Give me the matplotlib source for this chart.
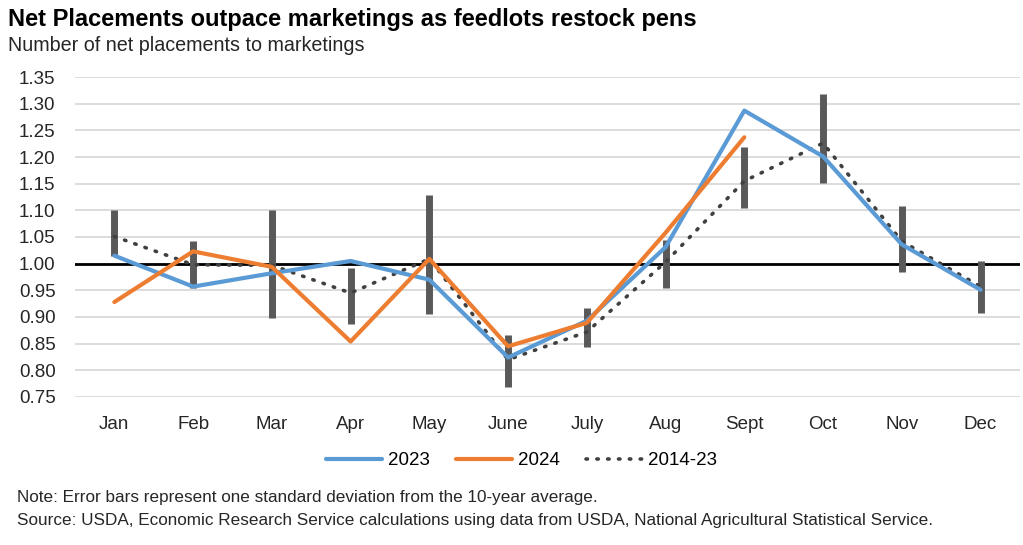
import matplotlib
matplotlib.use("Agg")
import matplotlib.pyplot as plt

plt.rcParams["font.family"] = ["Liberation Sans", "DejaVu Sans"]

months = ["Jan", "Feb", "Mar", "Apr", "May", "June", "July", "Aug", "Sept", "Oct", "Nov", "Dec"]
y2023 = [1.015, 0.957, 0.982, 1.005, 0.970, 0.824, 0.893, 1.031, 1.287, 1.201, 1.036, 0.951]
y2024 = [0.928, 1.023, 0.994, 0.854, 1.009, 0.845, 0.889, 1.058, 1.237]
avg_2014_23 = [1.051, 0.998, 0.997, 0.945, 1.009, 0.820, 0.872, 1.003, 1.155, 1.226, 1.042, 0.957]
# error bar ends (one SD around the 10-year average)
err_low = [1.014, 0.955, 0.898, 0.887, 0.906, 0.768, 0.844, 0.955, 1.105, 1.152, 0.985, 0.908]
err_high = [1.100, 1.043, 1.100, 0.991, 1.128, 0.867, 0.916, 1.045, 1.219, 1.318, 1.108, 1.005]

yticks = [0.75 + 0.05 * i for i in range(13)]

fig = plt.figure(figsize=(10.23, 5.45), dpi=100)
ax = fig.add_axes([0.0733, 0.2716, 0.9237, 0.5871])

x = list(range(len(months)))

for t in yticks:
    ax.axhline(t, color="#d9d9d9", lw=1.3, zorder=0)
ax.axhline(1.0, color="black", lw=2, zorder=1)

ax.vlines(x, err_low, err_high, color="#595959", lw=5, zorder=2)

ax.plot(x, y2023, color="#5b9bd5", lw=3, label="2023", zorder=4, solid_capstyle="round")
ax.plot(x[:len(y2024)], y2024, color="#ed7d31", lw=3, label="2024", zorder=5, solid_capstyle="round")
ax.plot(x, avg_2014_23, color="#404040", lw=2.6, ls=(0, (0.4, 2.6)), dash_capstyle="round",
        label="2014-23", zorder=3)

ax.set_xlim(-0.5, 11.5)
ax.set_ylim(0.75, 1.35)
ax.set_yticks(yticks)
ax.set_yticklabels([f"{t:.2f}" for t in yticks])
ax.set_xticks(x)
ax.set_xticklabels(months)
ax.tick_params(axis="both", length=0, labelsize=13.5, colors="#262626")
ax.tick_params(axis="x", pad=14)
ax.tick_params(axis="y", pad=14)
for s in ax.spines.values():
    s.set_visible(False)

ax.legend(loc="upper center", bbox_to_anchor=(0.4725, -0.12), ncol=3, frameon=False,
          fontsize=13.5, handlelength=3.0, columnspacing=1.4, handletextpad=0.3)

fig.text(0.008, 0.965, "Net Placements outpace marketings as feedlots restock pens",
         fontsize=17, fontweight="bold", va="center", ha="left")
fig.text(0.008, 0.917, "Number of net placements to marketings", fontsize=14.2, va="center", ha="left",
         color="#262626")
fig.text(0.017, 0.087, "Note: Error bars represent one standard deviation from the 10-year average.",
         fontsize=12.3, va="center", ha="left", color="#262626")
fig.text(0.017, 0.045,
         "Source: USDA, Economic Research Service calculations using data from USDA, National Agricultural Statistical Service.",
         fontsize=12.3, va="center", ha="left", color="#262626")

fig.savefig("out.png", dpi=100)
